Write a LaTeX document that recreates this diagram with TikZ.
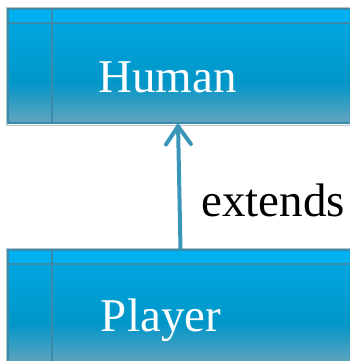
\documentclass[tikz,border=0pt]{standalone}
\usepackage{fontspec}
\setmainfont{Liberation Serif}
\usetikzlibrary{arrows.meta}
\definecolor{hdrc}{RGB}{0,176,240}
\definecolor{topc}{RGB}{0,166,224}
\definecolor{midc}{RGB}{0,150,200}
\definecolor{lowc}{RGB}{100,164,190}
\definecolor{edgec}{RGB}{58,138,170}
\definecolor{arrc}{RGB}{58,150,184}
\definecolor{outc}{RGB}{180,196,204}
\tikzset{
  classbox/.style={rectangle, draw=edgec, line width=1.6pt, inner sep=0pt, minimum width=352pt},
  outedge/.style={draw=outc, line width=0.8pt},
  hdrline/.style={draw=edgec, line width=1.6pt},
  upper/.style={top color=topc, bottom color=midc, draw=none},
  lower/.style={top color=midc, bottom color=lowc, draw=none},
  label/.style={font=\fontsize{47}{50}\selectfont, anchor=base, inner sep=0pt},
  conn/.style={draw=arrc, line width=4pt, -{Straight Barb[length=18pt, width=25pt, line cap=round, line width=4pt]}}
}
\begin{document}
\begin{tikzpicture}[x=1pt,y=1pt]
\useasboundingbox (0,0) rectangle (349,361);
% Human box (image y 9..123)
\fill[hdrc] (8,352) rectangle (360,338);
\shade[upper] (8,338) rectangle (360,279);
\shade[lower] (8,279.2) rectangle (360,238);
\node[classbox, minimum height=114pt] (human) at (184,295) {};
\draw[outedge] ([shift={(-1.2pt,1.2pt)}]human.north west) rectangle ([shift={(1.2pt,-1.2pt)}]human.south east);
\coordinate (hh) at (8,338);
\draw[hdrline] (hh) -- (human.east |- hh);
\coordinate (hv) at (52,352);
\draw[hdrline] (hv) -- (hv |- human.south);
\node[label, text=white] (humant) at (167.5,268) {Human};
% Player box (image y 250..)
\fill[hdrc] (8,111) rectangle (360,97);
\shade[upper] (8,97) rectangle (360,38);
\shade[lower] (8,38.2) rectangle (360,-3);
\node[classbox, minimum height=114pt] (player) at (184,54) {};
\draw[outedge] ([shift={(-1.2pt,1.2pt)}]player.north west) rectangle ([shift={(1.2pt,-1.2pt)}]player.south east);
\coordinate (ph) at (8,97);
\draw[hdrline] (ph) -- (player.east |- ph);
\coordinate (pv) at (52,111);
\draw[hdrline] (pv) -- (pv |- player.south);
\node[label, text=white] (playert) at (161,29) {Player};
% connector
\draw[conn] ([xshift=-3.5pt]player.north) -- ([xshift=-6pt,yshift=1pt]human.south);
\node[label, anchor=base west, text=black] (ext) at (201,144) {extends};
\end{tikzpicture}
\end{document}
